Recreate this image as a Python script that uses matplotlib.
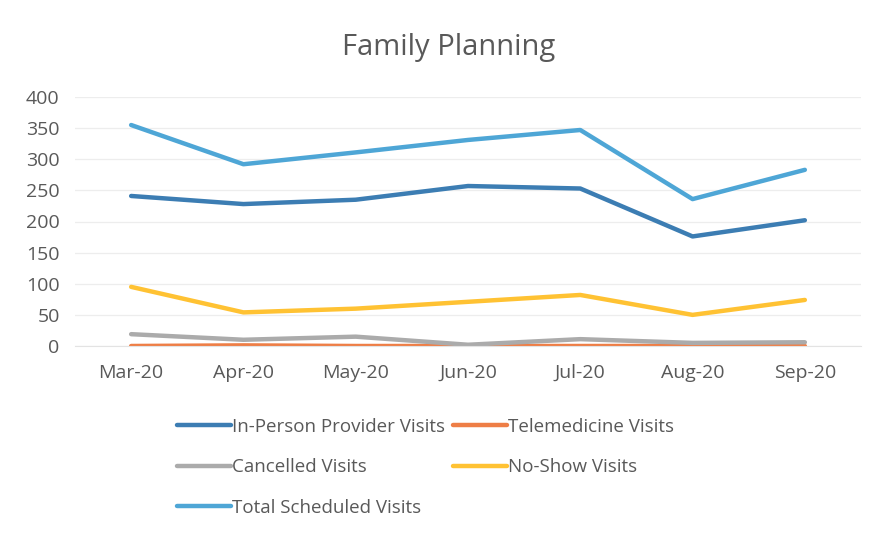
import matplotlib
matplotlib.use("Agg")
import matplotlib.pyplot as plt

months = ["Mar-20", "Apr-20", "May-20", "Jun-20", "Jul-20", "Aug-20", "Sep-20"]
in_person = [241, 228, 235, 257, 253, 176, 202]
telemedicine = [0, 1, 0, 0, 0, 0, 0]
cancelled = [19, 10, 15, 2, 11, 5, 6]
no_show = [95, 54, 60, 71, 82, 50, 74]
total = [355, 292, 311, 331, 347, 236, 283]
yticks = [0, 50, 100, 150, 200, 250, 300, 350, 400]

plt.rcParams['font.family'] = ['Open Sans', 'DejaVu Sans']
txt = "#595959"

fig = plt.figure(figsize=(8.75, 5.35), dpi=100)
ax = fig.add_axes([75/875, 1-346/535, (861-75)/875, (346-97)/535])

x = list(range(len(months)))
lw = 3.2
l1, = ax.plot(x, in_person, color="#3C7DB3", lw=lw, solid_capstyle="round", label="In-Person Provider Visits")
l2, = ax.plot(x, telemedicine, color="#EE7E46", lw=lw, solid_capstyle="round", label="Telemedicine Visits")
l3, = ax.plot(x, cancelled, color="#ABABAB", lw=lw, solid_capstyle="round", label="Cancelled Visits")
l4, = ax.plot(x, no_show, color="#FFC233", lw=lw, solid_capstyle="round", label="No-Show Visits")
l5, = ax.plot(x, total, color="#4EA6D6", lw=lw, solid_capstyle="round", label="Total Scheduled Visits")

ax.set_xlim(-0.5, len(months) - 0.5)
ax.set_ylim(0, 400)
ax.set_yticks(yticks)
ax.set_xticks(x)
ax.set_xticklabels(months)
ax.tick_params(axis="both", length=0, labelsize=14, colors=txt)
ax.tick_params(axis="y", pad=11)
ax.tick_params(axis="x", pad=13)
ax.grid(axis="y", color="#EDEDED", lw=0.9)
ax.set_axisbelow(True)
for s in ["top", "right", "left"]:
    ax.spines[s].set_visible(False)
ax.spines["bottom"].set_color("#E3E3E3")

fig.text(449/875, 1-48/535, "Family Planning", ha="center", va="center", fontsize=21, color=txt)

leg = fig.legend(handles=[l1, l3, l5, l2, l4], loc="upper left", bbox_to_anchor=(160/875, 1-401/535),
                 ncol=2, frameon=False, fontsize=13.5, labelcolor=txt, handlelength=2.9,
                 handletextpad=0.05, columnspacing=0.4, labelspacing=1.2)

fig.savefig("out.png", dpi=100, facecolor="white")
